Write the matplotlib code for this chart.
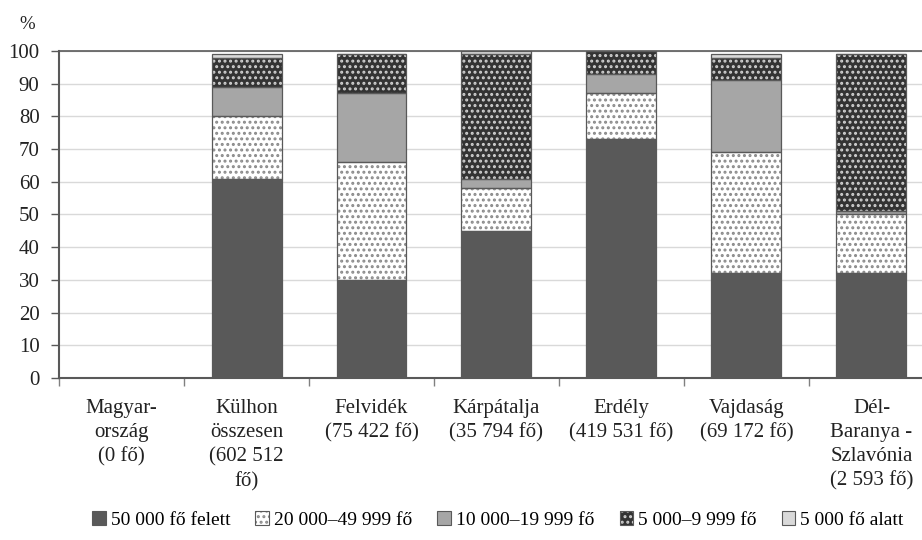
import matplotlib.pyplot as plt
from matplotlib.patches import Patch
import numpy as np

plt.rcParams['font.family'] = ['Liberation Serif', 'DejaVu Serif']
plt.rcParams['hatch.linewidth'] = 1.4

categories = [
    "Magyar-\nország\n(0 fő)",
    "Külhon\nösszesen\n(602 512\nfő)",
    "Felvidék\n(75 422 fő)",
    "Kárpátalja\n(35 794 fő)",
    "Erdély\n(419 531 fő)",
    "Vajdaság\n(69 172 fő)",
    "Dél-\nBaranya -\nSzlavónia\n(2 593 fő)",
]
series_names = ["50 000 fő felett", "20 000–49 999 fő", "10 000–19 999 fő",
                "5 000–9 999 fő", "5 000 fő alatt"]
over_50k = [0, 61, 30, 45, 73, 32, 32]
from_20k = [0, 19, 36, 13, 14, 37, 18]
from_10k = [0, 9, 21, 3, 6, 22, 1]
from_5k = [0, 9, 12, 38, 7, 7, 48]
under_5k = [0, 1, 0, 1, 0, 1, 0]

# (face, hatch colour, hatch)
styles = [
    ("#595959", None, None),
    ("white", "#8a8a8a", "..."),
    ("#a6a6a6", None, None),
    ("#333333", "#d0d0d0", "..."),
    ("#d9d9d9", None, None),
]
outline = "#595959"

fig = plt.figure(figsize=(9.22, 5.4), dpi=100)
# plot area runs a little past the right edge of the picture
ax = fig.add_axes([0.064, 0.30, 0.949, 0.6056])

x = np.arange(len(categories))
width = 0.56
bottom = np.zeros(len(categories))
handles = []
for vals, (face, hcol, hatch), name in zip(
        [over_50k, from_20k, from_10k, from_5k, under_5k], styles, series_names):
    vals = np.array(vals, dtype=float)
    if hatch:
        ax.bar(x, vals, width, bottom=bottom, color=face, edgecolor=hcol,
               hatch=hatch, linewidth=0, zorder=2)
    else:
        ax.bar(x, vals, width, bottom=bottom, color=face, linewidth=0, zorder=2)
    ax.bar(x, vals, width, bottom=bottom, fill=False, edgecolor=outline,
           linewidth=0.9, zorder=3)
    bottom += vals
    if hatch:
        h = (Patch(facecolor=face, edgecolor=hcol, hatch=hatch, linewidth=0),
             Patch(fill=False, edgecolor=outline, linewidth=0.8))
    else:
        h = Patch(facecolor=face, edgecolor=outline, linewidth=0.8)
    handles.append(h)

ax.set_xlim(-0.5, len(categories) - 0.5)
ax.set_ylim(0, 100)
ax.set_yticks(range(0, 101, 10))
ax.yaxis.grid(True, color="#d9d9d9", linewidth=1, zorder=0)
ax.set_axisbelow(True)

ax.set_xticks(np.arange(-0.5, len(categories), 1.0))
ax.set_xticklabels([])
ax.set_xticks(x, minor=True)
ax.set_xticklabels(categories, minor=True, va="top", ha="center",
                   linespacing=1.37)
ax.tick_params(axis="x", which="major", direction="out", length=6,
               color="#808080", width=1)
ax.tick_params(axis="x", which="minor", length=0, pad=15, labelsize=15,
               labelcolor="#222222")
ax.tick_params(axis="y", direction="out", length=6, color="#595959",
               width=1, labelsize=15, labelcolor="#222222", pad=8)

ax.spines["right"].set_visible(False)
ax.spines["top"].set_color("#595959")
ax.spines["top"].set_linewidth(1.2)
for s in ["left", "bottom"]:
    ax.spines[s].set_color("#595959")
    ax.spines[s].set_linewidth(1.5)

fig.text(0.03, 0.955, "%", fontsize=13.5, color="#222222", ha="center",
         va="center")

fig.legend(handles, series_names, loc="center", bbox_to_anchor=(0.54, 0.037),
           ncol=5, frameon=False, fontsize=14, handlelength=0.7,
           handleheight=0.7, handletextpad=0.25, columnspacing=1.3)

fig.savefig("out.png", dpi=100)
